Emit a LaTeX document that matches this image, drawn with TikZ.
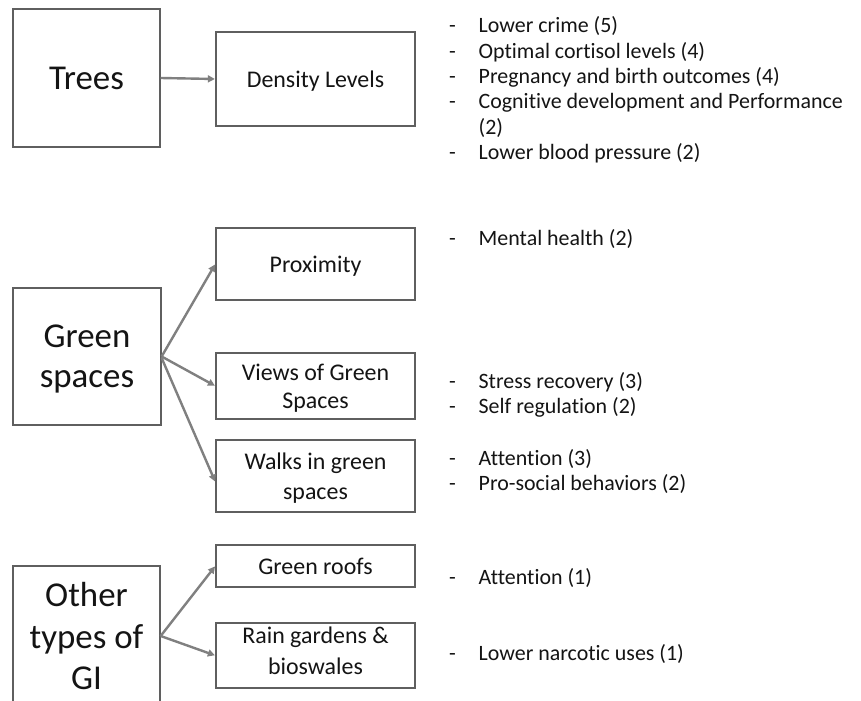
\documentclass[tikz,border=0pt]{standalone}
\usepackage{fontspec}
\setmainfont{Carlito}[Ligatures=NoCommon]
\usetikzlibrary{arrows.meta}
\definecolor{boxline}{RGB}{95,95,95}
\definecolor{arrowgray}{RGB}{128,128,128}
\definecolor{txt}{RGB}{20,20,20}
\begin{document}
\begin{tikzpicture}[x=1bp,y=-1bp,
  bigbox/.style={draw=boxline,line width=1.3bp,inner sep=0pt,align=center,text=txt,
    text depth=0pt,font=\fontsize{35}{40}\selectfont},
  midbox/.style={draw=boxline,line width=1.3bp,inner sep=0pt,align=center,text=txt,
    text depth=0pt,minimum width=199bp,font=\fontsize{24}{29.5}\selectfont},
  conn/.style={draw=arrowgray,line width=2.4bp,-{Triangle[length=7bp,width=7bp]},shorten >=0.5bp},
  listtext/.style={anchor=base west,inner sep=0pt,text=txt,font=\fontsize{22}{25.4}\selectfont}
]
\useasboundingbox (0,0) rectangle (861,701);
\clip (0,0) rectangle (861,701);
\fill[white] (0,0) rectangle (861,701);

% left boxes
\node[bigbox,minimum width=147bp,minimum height=138bp] (trees) at (86.5,78) {Trees};
\node[bigbox,minimum width=148bp,minimum height=137bp] (green) at (87,356.5) {Green\\spaces};
\node[bigbox,minimum width=147bp,minimum height=140bp,font=\fontsize{35}{41.5}\selectfont] (other) at (86.5,636) {Other\\types of\\GI};

% middle boxes
\node[midbox,minimum height=94bp] (density) at (315.5,79) {Density Levels};
\node[midbox,minimum height=72bp] (prox) at (315.5,264) {Proximity};
\node[midbox,minimum height=66bp,font=\fontsize{24}{28}\selectfont] (views) at (315.5,386) {Views of Green\\Spaces};
\node[midbox,minimum height=72bp,font=\fontsize{24}{30}\selectfont] (walks) at (315.5,476) {Walks in green\\spaces};
\node[midbox,minimum height=42bp] (roofs) at (315.5,566) {Green roofs};
\node[midbox,minimum height=65bp,text depth=10bp,font=\fontsize{24}{30.5}\selectfont] (rain) at (315.5,655.5) {Rain gardens \&\\bioswales};

% connectors
\draw[conn] (trees.east) -- (density.west);
\coordinate (gsrc) at (green.east);
\draw[conn] (gsrc) -- (prox.west);
\draw[conn] (gsrc) -- (views.west);
\draw[conn] ([yshift=-1.5bp]gsrc) -- ([yshift=-6bp]walks.west);
\coordinate (osrc) at (other.east);
\draw[conn] (osrc) -- (roofs.west);
\draw[conn] (osrc) -- (rain.west);

% outcome lists
\node[listtext] (l1) at (449,33) {\begin{tabular}[t]{@{}p{29.5bp}@{}l@{}}
-&Lower crime (5)\\
-&Optimal cortisol levels (4)\\
-&Pregnancy and birth outcomes (4)\\
-&Cognitive development and Performance\\
 &(2)\\
-&Lower blood pressure (2)
\end{tabular}};
\node[listtext] (l2) at (449,245) {\begin{tabular}[t]{@{}p{29.5bp}@{}l@{}}
-&Mental health (2)
\end{tabular}};
\node[listtext] (l3) at (449,388.5) {\begin{tabular}[t]{@{}p{29.5bp}@{}l@{}}
-&Stress recovery (3)\\
-&Self regulation (2)
\end{tabular}};
\node[listtext] (l4) at (449,465) {\begin{tabular}[t]{@{}p{29.5bp}@{}l@{}}
-&Attention (3)\\
-&Pro-social behaviors (2)
\end{tabular}};
\node[listtext] (l5) at (449,584) {\begin{tabular}[t]{@{}p{29.5bp}@{}l@{}}
-&Attention (1)
\end{tabular}};
\node[listtext] (l6) at (449,660) {\begin{tabular}[t]{@{}p{29.5bp}@{}l@{}}
-&Lower narcotic uses (1)
\end{tabular}};
\end{tikzpicture}
\end{document}
